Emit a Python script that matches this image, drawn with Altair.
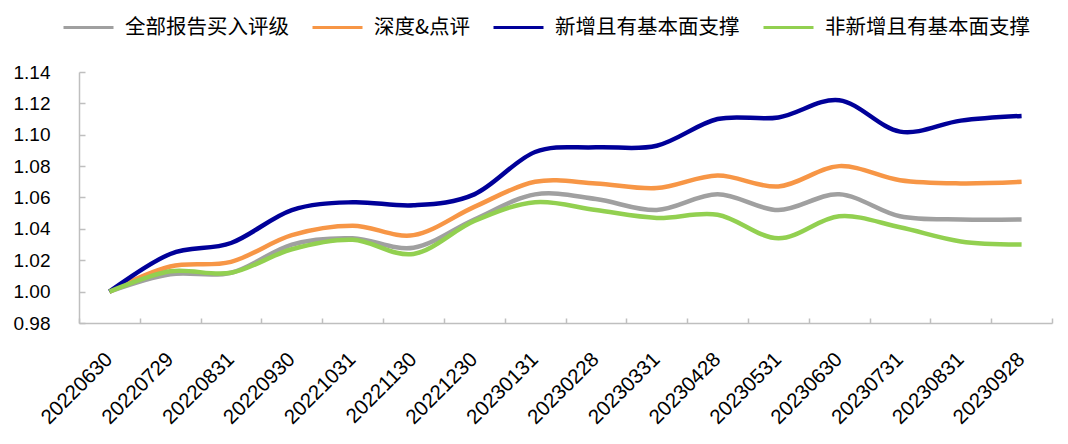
import altair as alt
import pandas as pd

dates = ["20220630", "20220729", "20220831", "20220930", "20221031", "20221130",
         "20221230", "20230131", "20230228", "20230331", "20230428", "20230531",
         "20230630", "20230731", "20230831", "20230928"]
series_names = ["全部报告买入评级", "深度&点评", "新增且有基本面支撑", "非新增且有基本面支撑"]
all_buy = [1.000, 1.011, 1.012, 1.030, 1.034, 1.028, 1.046, 1.062, 1.059, 1.052,
           1.062, 1.052, 1.062, 1.048, 1.046, 1.046]
deep = [1.000, 1.016, 1.019, 1.036, 1.042, 1.036, 1.054, 1.070, 1.069, 1.066,
        1.074, 1.067, 1.080, 1.071, 1.069, 1.070]
new_fund = [1.000, 1.024, 1.031, 1.052, 1.057, 1.055, 1.062, 1.089, 1.092, 1.093,
            1.110, 1.111, 1.122, 1.102, 1.109, 1.112]
old_fund = [1.000, 1.013, 1.012, 1.027, 1.033, 1.024, 1.045, 1.057, 1.052, 1.047,
            1.049, 1.034, 1.048, 1.041, 1.032, 1.030]
colors = ["#A0A0A0", "#F79646", "#000099", "#92D050"]
y_ticks = [0.98, 1.00, 1.02, 1.04, 1.06, 1.08, 1.10, 1.12, 1.14]

rows = []
for name, vals in zip(series_names, [all_buy, deep, new_fund, old_fund]):
    for d, v in zip(dates, vals):
        rows.append({"date": d, "series": name, "value": v, "order": series_names.index(name)})
df = pd.DataFrame(rows)

W, H = 973, 251
AXIS_COLOR = "#BFBFBF"
FONT = "Liberation Sans"

xscale = alt.Scale(type="band", paddingInner=0, paddingOuter=0)
yscale = alt.Scale(domain=[0.98, 1.14], nice=False, zero=False)

main = alt.Chart(df).mark_line(interpolate="cardinal", tension=0, strokeWidth=4.5).encode(
    x=alt.X("date:O", sort=dates, scale=xscale, title=None,
            axis=alt.Axis(orient="bottom", labelAngle=-45, labelAlign="right",
                          labelBaseline="middle", labelPadding=33, labelFontSize=20.5,
                          labelFont=FONT, labelColor="#000000", ticks=False,
                          domainColor=AXIS_COLOR, domainWidth=1.5, grid=False)),
    y=alt.Y("value:Q", scale=yscale, title=None,
            axis=alt.Axis(orient="left", values=y_ticks, format=".2f", labelFontSize=19,
                          labelFont=FONT, labelColor="#000000", labelPadding=29,
                          ticks=False, domainColor=AXIS_COLOR, domainWidth=1.5,
                          grid=False)),
    color=alt.Color("series:N", sort=series_names,
                    scale=alt.Scale(domain=series_names, range=colors),
                    legend=alt.Legend(orient="none", legendX=-17, legendY=-71,
                                      direction="horizontal", title=None,
                                      symbolType="stroke", symbolSize=2500,
                                      symbolStrokeWidth=3, labelFontSize=20.5,
                                      labelFont="Noto Sans CJK SC", labelColor="#000000",
                                      labelOffset=10, columnPadding=17, padding=0,
                                      labelLimit=400)),
    order=alt.Order("order:Q"),
)

ticks_layer = alt.Chart(df).mark_line(strokeOpacity=0).encode(
    x=alt.X("date:O", sort=dates, scale=xscale, title=None,
            axis=alt.Axis(orient="top", offset=-H, labels=False, domain=False,
                          tickBand="extent", tickSize=5, tickColor=AXIS_COLOR,
                          tickWidth=1.5, grid=False)),
    y=alt.Y("value:Q", scale=yscale, title=None,
            axis=alt.Axis(orient="right", offset=-W, values=y_ticks, labels=False,
                          domain=False, tickSize=6, tickColor=AXIS_COLOR,
                          tickWidth=1.5, grid=False)),
    detail="series:N",
)

chart = alt.layer(main, ticks_layer).resolve_axis(x="independent", y="independent").properties(
    width=W, height=H,
    autosize=alt.AutoSizeParams(type="none"),
    padding={"left": 71, "top": 64, "right": 8, "bottom": 113},
).configure_view(stroke=None)

chart.save("out.html", embed_options={"renderer": "svg", "actions": False})
